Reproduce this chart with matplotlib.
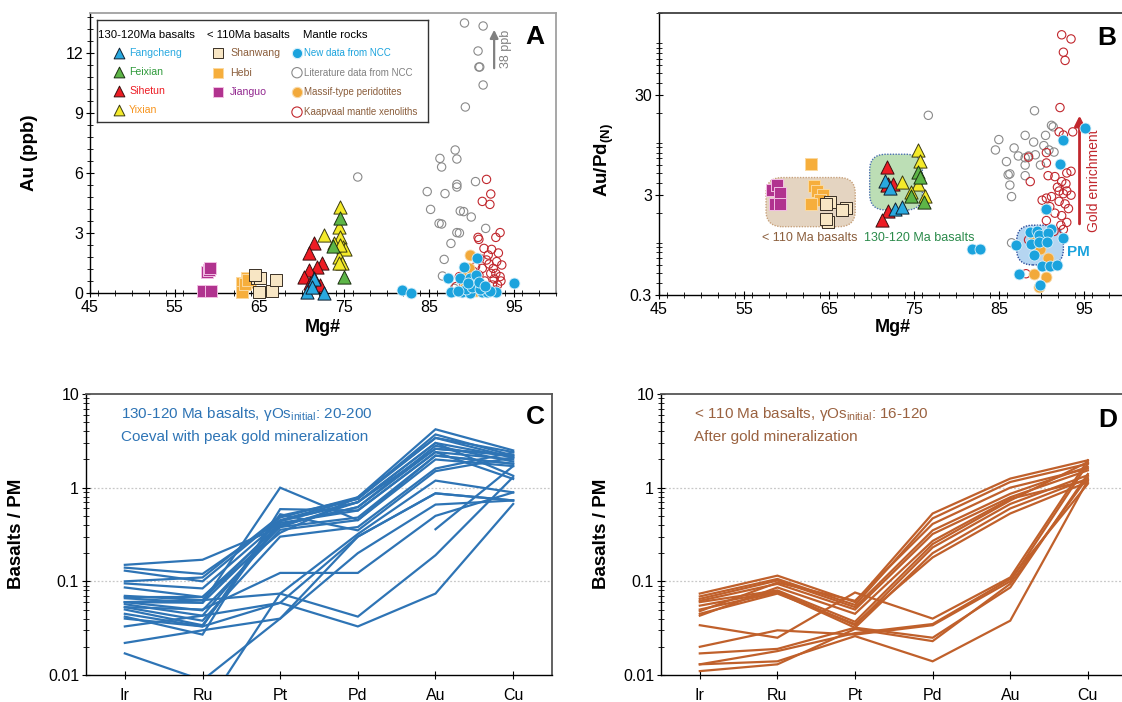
import numpy as np
import matplotlib
matplotlib.use("Agg")
import matplotlib.pyplot as plt
from matplotlib.ticker import MultipleLocator, FixedLocator, FuncFormatter, LogLocator, NullFormatter
from matplotlib.patches import FancyBboxPatch

plt.rcParams['font.family'] = ['Liberation Sans', 'DejaVu Sans']
plt.rcParams['mathtext.fontset'] = 'custom'
plt.rcParams['mathtext.rm'] = 'Liberation Sans'
plt.rcParams['mathtext.it'] = 'Liberation Sans'
plt.rcParams['mathtext.bf'] = 'Liberation Sans:bold'

# ---------------- Panel A data (Mg#, Au ppb) ----------------
jianguo_A_mg = [58.8, 59.0, 59.2, 58.3, 59.3]
jianguo_A_au = [1.07, 1.15, 1.23, 0.08, 0.08]
hebi_A_mg = [62.9, 62.9, 63.5, 63.9, 63.3, 63.7]
hebi_A_au = [0.52, 0.07, 0.73, 0.57, 0.45, 0.65]
shanwang_A_mg = [64.7, 65.1, 64.9, 66.5, 66.9, 64.5]
shanwang_A_au = [0.73, 0.73, 0.05, 0.1, 0.65, 0.9]
sihetun_A_mg = [71.4, 70.8, 72.4, 71.8, 70.8, 70.2, 71.0, 72.2, 71.4]
sihetun_A_au = [2.48, 1.98, 1.48, 1.32, 1.15, 0.82, 0.48, 0.4, 0.73]
fangcheng_A_mg = [70.6, 71.4, 72.6, 71.2]
fangcheng_A_au = [0.05, 0.7, 0.0, 0.3]
yixian_A_mg = [74.55, 72.6, 74.35, 74.55, 73.8, 74.9, 75.1, 74.35, 74.75, 74.35, 74.5]
yixian_A_au = [4.32, 2.9, 3.3, 2.8, 2.5, 2.3, 2.2, 1.8, 1.5, 1.5, 2.4]
feixian_A_mg = [74.55, 73.7, 75.0]
feixian_A_au = [3.75, 2.35, 0.78]
lit_A_mg = [76.6, 89.2, 91.4, 90.8, 90.9, 91.0, 91.4, 89.3, 88.1, 86.3, 88.3, 86.5, 88.3, 88.3,
            90.5, 84.8, 86.9, 85.2, 88.7, 89.1, 90.0, 86.2, 86.5, 88.3, 88.6, 91.7, 87.6, 86.8,
            86.6, 88.0]
lit_A_au = [5.8, 13.5, 13.35, 12.1, 11.3, 11.3, 10.4, 9.3, 7.15, 6.73, 6.7, 6.3, 5.43, 5.3,
            5.57, 5.07, 4.97, 4.18, 4.1, 4.07, 3.8, 3.48, 3.45, 3.02, 3.0, 3.23, 2.48, 1.68,
            0.85, 0.23]
kaap_A_mg = [91.8, 92.3, 91.3, 92.2, 90.8, 90.9, 93.4, 92.9, 91.5, 92.4, 91.0, 91.8, 93.0, 93.6,
             92.6, 92.9, 92.3, 93.4, 88.6, 89.8, 91.0, 92.5, 93.1, 88.2, 92.9, 91.8, 90.6, 91.3,
             90.5, 89.3, 92.0, 93.2, 90.2, 91.6, 92.7, 89.6, 90.9, 92.1, 93.5, 91.2]
kaap_A_au = [5.68, 4.95, 4.58, 4.43, 2.78, 2.68, 3.02, 2.78, 2.23, 2.18, 1.73, 1.65, 1.57, 1.4,
             1.23, 0.98, 0.98, 0.82, 0.82, 0.65, 0.48, 0.4, 0.4, 0.32, 0.15, 0.23, 0.15, 1.23,
             1.32, 1.0, 1.9, 2.0, 1.1, 0.6, 0.7, 0.45, 0.9, 1.45, 0.6, 0.3]
ncc_A_mg = [81.8, 82.9, 87.2, 87.6, 88.7, 89.2, 90.7, 89.9, 90.6, 88.9, 89.9, 90.4, 91.3, 91.9,
            92.9, 95.1, 89.4, 90.1, 91.0, 89.6, 90.9, 92.2, 88.4, 91.6]
ncc_A_au = [0.15, 0.02, 0.73, 0.03, 0.73, 1.32, 1.73, 0.73, 0.9, 0.03, 0.02, 0.4, 0.05, 0.03,
            0.03, 0.48, 0.2, 0.3, 0.2, 0.5, 0.55, 0.1, 0.1, 0.35]
massif_A_mg = [89.8, 89.7, 90.2, 89.3, 90.6, 89.0]
massif_A_au = [1.9, 1.23, 0.6, 0.3, 0.1, 0.8]

# ---------------- Panel B data (Mg#, Au/Pd normalised) ----------------
jianguo_B_mg = [58.3, 58.9, 59.2, 58.6, 59.3]
jianguo_B_r = [3.37, 3.78, 3.14, 2.47, 2.47]
hebi_B_mg = [62.9, 63.2, 63.6, 64.3, 64.0, 62.9]
hebi_B_r = [6.1, 3.71, 3.3, 3.0, 2.67, 2.47]
shanwang_B_mg = [65.1, 64.7, 67.0, 66.5, 64.9, 64.7]
shanwang_B_r = [2.57, 2.42, 2.24, 2.13, 1.63, 1.75]
sihetun_B_mg = [71.8, 72.0, 72.6, 71.8, 71.9, 71.3]
sihetun_B_r = [5.8, 3.9, 3.85, 3.77, 2.1, 1.69]
fangcheng_B_mg = [71.6, 72.2, 72.8, 73.6]
fangcheng_B_r = [4.2, 3.5, 2.2, 2.3]
yixian_B_mg = [75.5, 75.7, 73.6, 75.5, 74.7, 76.3]
yixian_B_r = [8.4, 6.6, 4.07, 3.9, 3.26, 2.96]
feixian_B_mg = [75.5, 74.7, 76.2, 75.7]
feixian_B_r = [5.1, 2.96, 2.57, 4.6]
lit_B_mg = [76.7, 89.2, 91.2, 91.4, 85.0, 84.6, 86.8, 88.1, 89.1, 90.5, 90.3, 90.9, 91.5, 85.9,
            87.3, 88.1, 88.5, 89.3, 88.1, 89.9, 86.1, 86.3, 88.1, 86.3, 86.5, 86.5]
lit_B_r = [18.9, 21.0, 15.0, 14.5, 10.8, 8.5, 8.9, 11.9, 10.2, 11.9, 9.4, 8.5, 8.1, 6.5,
           7.4, 7.1, 7.4, 7.6, 6.0, 6.0, 4.8, 4.9, 4.7, 3.78, 2.9, 1.0]
kaap_B_mg = [92.4, 93.5, 92.6, 92.8, 92.2, 92.1, 93.7, 92.6, 90.6, 88.5, 90.6, 93.0, 93.5, 90.8,
             91.6, 88.7, 92.4, 92.1, 92.6, 93.0, 93.5, 90.1, 90.6, 91.2, 92.1, 92.8, 93.2, 91.6,
             92.4, 90.6, 93.0, 92.6, 91.5, 88.5, 88.2, 91.9, 92.9, 91.0, 92.3]
kaap_B_r = [121, 110, 81, 67, 22.6, 12.9, 12.9, 12.0, 8.0, 7.2, 6.3, 5.0, 5.2, 4.7,
            4.6, 4.1, 4.1, 3.3, 3.1, 3.3, 3.0, 2.67, 2.8, 2.9, 2.6, 2.45, 2.2, 1.98,
            1.87, 1.67, 1.6, 1.36, 1.3, 1.07, 0.49, 3.6, 3.9, 2.3, 1.5]
ncc_B_mg = [95.1, 92.6, 92.2, 90.5, 81.9, 82.8, 87.0, 88.7, 89.5, 91.2, 89.7, 90.8, 88.8, 89.7,
            90.7, 92.5, 89.2, 90.1, 91.0, 91.9, 87.4, 89.8]
ncc_B_r = [14.2, 10.8, 6.1, 2.2, 0.86, 0.86, 0.96, 1.27, 1.3, 1.37, 1.2, 1.25, 0.97, 1.03,
           1.03, 1.12, 0.75, 0.58, 0.58, 0.6, 0.49, 0.38]
massif_B_mg = [90.6, 89.1, 89.9, 90.8, 89.1, 90.5, 89.7]
massif_B_r = [2.2, 1.12, 0.86, 0.7, 0.49, 0.45, 0.36]

# ---------------- Panels C, D data (normalised to PM) ----------------
elements = ['Ir', 'Ru', 'Pt', 'Pd', 'Au', 'Cu']
nan = np.nan
basalts_130_120 = [
    [0.15, 0.17, 0.38, 0.70, 2.6, 2.2],
    [0.14, 0.12, 0.45, 0.76, 3.4, 2.4],
    [0.13, 0.10, 0.48, 0.79, 4.2, 2.5],
    [0.10, 0.11, 0.50, 0.76, 3.7, 2.2],
    [0.095, 0.084, 0.44, 0.70, 3.0, 2.1],
    [0.086, 0.068, 0.40, 0.62, 2.8, 1.9],
    [0.07, 0.063, 0.42, 0.57, 2.4, 2.0],
    [0.066, 0.059, 0.38, 0.48, 2.2, 1.8],
    [0.06, 0.049, 0.355, 0.45, 2.0, 1.7],
    [0.057, 0.043, 0.40, 0.62, 2.6, 2.24],
    [0.053, 0.038, 0.30, 0.38, 1.6, 2.38],
    [0.05, 0.034, 0.44, 0.70, 3.0, 1.34],
    [0.06, 0.059, 1.0, 0.45, 2.2, 1.8],
    [0.042, 0.027, 0.59, 0.57, 2.4, 1.24],
    [0.045, 0.033, 0.52, 0.35, 1.5, 2.1],
    [0.06, 0.063, 0.074, 0.042, 0.19, 1.3],
    [0.04, 0.033, 0.059, 0.033, 0.074, 0.67],
    [0.053, 0.05, 0.123, 0.123, 0.5, 0.89],
    [0.033, 0.043, 0.059, 0.3, 0.87, 0.73],
    [0.022, 0.03, 0.04, 0.2, 0.66, 0.73],
    [0.017, 0.0088, 0.04, 0.3, 0.87, 0.73],
    [nan, 0.004, 0.074, 0.32, 1.19, 0.89],
    [nan, nan, nan, nan, 0.36, 1.7],
    [0.068, 0.068, 0.33, 0.79, 3.4, 2.1],
]
basalts_110 = [
    [0.074, 0.115, 0.060, 0.53, 1.25, 1.96],
    [0.069, 0.106, 0.056, 0.47, 1.15, 1.80],
    [0.065, 0.102, 0.053, 0.35, 0.86, 1.67],
    [0.062, 0.094, 0.050, 0.32, 0.79, 1.53],
    [0.060, 0.080, 0.037, 0.25, 0.73, 1.88],
    [0.055, 0.078, 0.034, 0.23, 0.67, 1.36],
    [0.050, 0.076, 0.032, 0.20, 0.60, 1.25],
    [0.045, 0.074, 0.035, 0.18, 0.53, 1.15],
    [0.043, 0.086, 0.045, 0.27, 0.76, 1.20],
    [0.048, 0.097, 0.062, 0.41, 1.00, 1.60],
    [0.034, 0.025, 0.076, 0.040, 0.11, 1.96],
    [0.020, 0.030, 0.027, 0.034, 0.10, 1.80],
    [0.017, 0.019, 0.032, 0.025, 0.086, 1.40],
    [0.013, 0.014, 0.026, 0.014, 0.038, 1.20],
    [0.011, 0.013, 0.031, 0.023, 0.094, 1.30],
    [0.013, 0.018, 0.028, 0.035, 0.106, 1.10],
]

# ---------------- colours ----------------
c_fang = '#29a9e0'
c_feix = '#5db547'
c_sihe = '#ed1c24'
c_yixi = '#f4ea2a'
c_shan = '#f8e6c4'
c_hebi = '#f6ae3c'
c_jian = '#b1338f'
c_ncc = '#1ba3dd'
c_lit = '#8a8a8a'
c_mas = '#f2a93b'
c_kaap = '#c1272d'
c_blueline = '#2e74b5'
c_brownline = '#c0602b'

W, H = 1122, 702
fig = plt.figure(figsize=(W / 100, H / 100), dpi=100)


def px_axes(l, t, r, b):
    return fig.add_axes([l / W, 1 - b / H, (r - l) / W, (b - t) / H])


tri_s, sq_s, cir_s, ocir_s = 90, 80, 62, 36


def draw_points(ax, d):
    ax.scatter(d['lit'][0], d['lit'][1], s=ocir_s, facecolors='none', edgecolors=c_lit, linewidths=0.8, zorder=3)
    ax.scatter(d['kaap'][0], d['kaap'][1], s=ocir_s, facecolors='none', edgecolors=c_kaap, linewidths=0.8, zorder=3)
    ax.scatter(d['mas'][0], d['mas'][1], s=cir_s, facecolors=c_mas, edgecolors='#f7d9a8', linewidths=0.6, zorder=4)
    ax.scatter(d['ncc'][0], d['ncc'][1], s=cir_s, facecolors=c_ncc, edgecolors='#d8f0fb', linewidths=0.6, zorder=5)
    ax.scatter(d['jian'][0], d['jian'][1], s=sq_s, marker='s', facecolors=c_jian, edgecolors='#f2bfe3', linewidths=0.7, zorder=5)
    ax.scatter(d['hebi'][0], d['hebi'][1], s=sq_s, marker='s', facecolors=c_hebi, edgecolors='#fbd9a0', linewidths=0.7, zorder=5)
    ax.scatter(d['shan'][0], d['shan'][1], s=sq_s, marker='s', facecolors=c_shan, edgecolors='#3a3026', linewidths=0.7, zorder=5)
    ax.scatter(d['sihe'][0], d['sihe'][1], s=tri_s, marker='^', facecolors=c_sihe, edgecolors='#3a1010', linewidths=0.7, zorder=6)
    ax.scatter(d['fang'][0], d['fang'][1], s=tri_s, marker='^', facecolors=c_fang, edgecolors='#102030', linewidths=0.7, zorder=6)
    ax.scatter(d['yixi'][0], d['yixi'][1], s=tri_s, marker='^', facecolors=c_yixi, edgecolors='#3a3a10', linewidths=0.7, zorder=6)
    ax.scatter(d['feix'][0], d['feix'][1], s=tri_s, marker='^', facecolors=c_feix, edgecolors='#1a3010', linewidths=0.7, zorder=6)


def style_common(ax, topcol, rightcol=None):
    ax.spines['left'].set_color('black')
    ax.spines['bottom'].set_color('black')
    ax.spines['left'].set_linewidth(1.0)
    ax.spines['bottom'].set_linewidth(1.0)
    ax.spines['top'].set_color(topcol)
    ax.spines['top'].set_linewidth(1.3)
    if rightcol is None:
        ax.spines['right'].set_visible(False)
    else:
        ax.spines['right'].set_color(rightcol)
        ax.spines['right'].set_linewidth(1.3)
    ax.tick_params(axis='both', which='major', direction='inout', length=6, width=0.8, labelsize=11.5,
                   top=False, right=False, pad=2)
    ax.tick_params(axis='both', which='minor', direction='inout', length=4, width=0.6, top=False, right=False)


# ================= Panel A =================
axA = px_axes(90, 13, 556, 293)
dA = dict(lit=(lit_A_mg, lit_A_au), kaap=(kaap_A_mg, kaap_A_au), mas=(massif_A_mg, massif_A_au),
          ncc=(ncc_A_mg, ncc_A_au), jian=(jianguo_A_mg, jianguo_A_au), hebi=(hebi_A_mg, hebi_A_au),
          shan=(shanwang_A_mg, shanwang_A_au), sihe=(sihetun_A_mg, sihetun_A_au),
          fang=(fangcheng_A_mg, fangcheng_A_au), yixi=(yixian_A_mg, yixian_A_au), feix=(feixian_A_mg, feixian_A_au))
draw_points(axA, dA)
for c in axA.collections:
    c.set_clip_on(False)
axA.set_xlim(45, 100)
axA.set_ylim(0, 14)
axA.xaxis.set_major_locator(FixedLocator([45, 55, 65, 75, 85, 95]))
axA.xaxis.set_minor_locator(MultipleLocator(2))
axA.yaxis.set_major_locator(MultipleLocator(3))
axA.yaxis.set_minor_locator(MultipleLocator(0.6))
style_common(axA, '#a0a0a0', '#a0a0a0')
axA.annotate('', xy=(92.7, 13.3), xytext=(92.7, 11.1),
             arrowprops=dict(arrowstyle='-|>', color='#808080', lw=1.6, mutation_scale=12))
axA.text(94.1, 12.2, '38 ppb', rotation=90, ha='center', va='center', fontsize=9, color='#808080')
axA.text(0.955, 0.915, 'A', transform=axA.transAxes, ha='center', va='center', fontsize=19, fontweight='bold')
fig.text(30 / W, 1 - 153 / H, 'Au (ppb)', rotation=90, ha='center', va='center', fontsize=13.5, fontweight='bold')
fig.text(323 / W, 1 - 327 / H, 'Mg#', ha='center', va='center', fontsize=13, fontweight='bold')

# legend inset (pixel coordinates)
lg = px_axes(97, 20, 428, 122)
lg.set_xlim(97, 428)
lg.set_ylim(122, 20)
lg.set_xticks([])
lg.set_yticks([])
for s in lg.spines.values():
    s.set_color('#333333')
    s.set_linewidth(1.0)
lg.set_facecolor('white')
lg.set_zorder(10)
lg.text(98, 35, '130-120Ma basalts', fontsize=8.2, va='center', ha='left')
lg.text(207, 35, '< 110Ma basalts', fontsize=8.2, va='center', ha='left')
lg.text(303, 35, 'Mantle rocks', fontsize=8.2, va='center', ha='left')
leg_tri = [('Fangcheng', c_fang, '#29a9e0', '#102030'), ('Feixian', c_feix, '#2f9a3a', '#1a3010'),
           ('Sihetun', c_sihe, '#ed1c24', '#3a1010'), ('Yixian', c_yixi, '#f7941d', '#3a3a10')]
for i, (name, fc, tc, ec) in enumerate(leg_tri):
    y = 53 + i * 19
    lg.scatter([119], [y], s=60, marker='^', facecolors=fc, edgecolors=ec, linewidths=0.7)
    lg.text(129, y, name, fontsize=7.6, color=tc, va='center', ha='left')
leg_sq = [('Shanwang', c_shan, '#3a3026', '#8b5e3c'), ('Hebi', c_hebi, '#fbd9a0', '#8b5e3c'),
          ('Jianguo', c_jian, '#f2bfe3', '#92278f')]
for i, (name, fc, ec, tc) in enumerate(leg_sq):
    y = 53 + i * 19.5
    lg.scatter([218], [y], s=45, marker='s', facecolors=fc, edgecolors=ec, linewidths=0.7)
    lg.text(230, y, name, fontsize=7.6, color=tc, va='center', ha='left')
leg_c = [('New data from NCC', c_ncc, '#d8f0fb', c_ncc),
         ('Literature data from NCC', 'none', c_lit, '#808080'),
         ('Massif-type peridotites', c_mas, '#f7d9a8', '#8b5e3c'),
         ('Kaapvaal mantle xenoliths', 'none', c_kaap, '#8b5e3c')]
for i, (name, fc, ec, tc) in enumerate(leg_c):
    y = 53 + i * 19.7
    lg.scatter([297], [y], s=55, marker='o', facecolors=fc, edgecolors=ec, linewidths=0.8)
    lg.text(304, y, name, fontsize=7.0, color=tc, va='center', ha='left')

# ================= Panel B =================
axB = px_axes(659, 13, 1122, 295)
axB.set_yscale('log')
xl = (45, 99.5)
yl = (0.3, 200)
axB.set_xlim(*xl)
axB.set_ylim(*yl)


def to_axfrac(x, y):
    return ((x - xl[0]) / (xl[1] - xl[0]),
            (np.log10(y) - np.log10(yl[0])) / (np.log10(yl[1]) - np.log10(yl[0])))


def rbox(ax, x0, y0, x1, y1, fc, ec):
    a0 = to_axfrac(x0, y0)
    a1 = to_axfrac(x1, y1)
    p = FancyBboxPatch((a0[0], a0[1]), a1[0] - a0[0], a1[1] - a0[1],
                       boxstyle='round,pad=0,rounding_size=0.035', mutation_aspect=1.6,
                       transform=ax.transAxes, facecolor=fc, edgecolor=ec, linestyle=(0, (1, 1)),
                       linewidth=1.0, zorder=1)
    ax.add_patch(p)


rbox(axB, 57.6, 1.45, 68.1, 4.5, '#e4d4c1', '#c8a27c')
rbox(axB, 69.8, 2.13, 76.0, 7.7, '#bcdeb5', '#4a6fb0')
rbox(axB, 87.1, 0.6, 92.6, 1.5, '#b5d5f1', '#2a4a9a')
dB = dict(lit=(lit_B_mg, lit_B_r), kaap=(kaap_B_mg, kaap_B_r), mas=(massif_B_mg, massif_B_r),
          ncc=(ncc_B_mg, ncc_B_r), jian=(jianguo_B_mg, jianguo_B_r), hebi=(hebi_B_mg, hebi_B_r),
          shan=(shanwang_B_mg, shanwang_B_r), sihe=(sihetun_B_mg, sihetun_B_r),
          fang=(fangcheng_B_mg, fangcheng_B_r), yixi=(yixian_B_mg, yixian_B_r), feix=(feixian_B_mg, feixian_B_r))
draw_points(axB, dB)
axB.xaxis.set_major_locator(FixedLocator([45, 55, 65, 75, 85, 95]))
axB.xaxis.set_minor_locator(MultipleLocator(2))
axB.yaxis.set_major_locator(FixedLocator([0.3, 3, 30]))
axB.yaxis.set_major_formatter(FuncFormatter(lambda v, p: '%g' % v))
axB.yaxis.set_minor_locator(LogLocator(base=10, subs=np.arange(1, 10)))
axB.yaxis.set_minor_formatter(NullFormatter())
style_common(axB, '#404040')
axB.annotate('', xy=(94.5, 20.0), xytext=(94.5, 1.45),
             arrowprops=dict(arrowstyle='-|>', color='#c1272d', lw=2.0, mutation_scale=15))
axB.text(96.2, 4.2, 'Gold enrichment', rotation=90, ha='center', va='center', fontsize=10, color='#c1272d')
axB.text(94.4, 0.81, 'PM', ha='center', va='center', fontsize=11, color=c_ncc, fontweight='bold')
axB.text(62.8, 1.11, '< 110 Ma basalts', ha='center', va='center', fontsize=9, color='#8b5e3c')
axB.text(75.6, 1.11, '130-120 Ma basalts', ha='center', va='center', fontsize=9, color='#2a8a4a')
fig.text(1107 / W, 1 - 38 / H, 'B', ha='center', va='center', fontsize=19, fontweight='bold')
fig.text(604 / W, 1 - 160 / H, r'Au/Pd$_{\mathbf{(N)}}$', rotation=90, ha='center', va='center', fontsize=13.5, fontweight='bold')
fig.text(893 / W, 1 - 327 / H, 'Mg#', ha='center', va='center', fontsize=13, fontweight='bold')

# ================= Panels C & D =================
xs = np.arange(len(elements))


def spider(ax, data, col, xlim_r):
    ax.set_yscale('log')
    for row in data:
        ax.plot(xs, row, color=col, lw=1.6, solid_joinstyle='miter', zorder=3)
    ax.set_xlim(-0.5, xlim_r)
    ax.set_ylim(0.01, 10)
    ax.set_xticks(xs)
    ax.set_xticklabels(elements)
    ax.yaxis.set_major_locator(FixedLocator([0.01, 0.1, 1, 10]))
    ax.yaxis.set_major_formatter(FuncFormatter(lambda v, p: '%g' % v))
    ax.yaxis.set_minor_locator(LogLocator(base=10, subs=np.arange(2, 10)))
    ax.yaxis.set_minor_formatter(NullFormatter())
    for g in (0.1, 1):
        ax.axhline(g, color='#c8c8c8', lw=0.9, ls=(0, (1.5, 1.5)), zorder=1)


axC = px_axes(86, 394, 552, 675)
spider(axC, basalts_130_120, c_blueline, 5.5)
style_common(axC, '#555555', '#555555')
axC.tick_params(axis='x', which='major', length=6, pad=6)
fig.text(121 / W, 1 - 414 / H, r'130-120 Ma basalts, γOs$_{\mathrm{initial}}$: 20-200', ha='left', va='center',
         fontsize=11, color=c_blueline)
fig.text(121 / W, 1 - 437 / H, 'Coeval with peak gold mineralization', ha='left', va='center',
         fontsize=11, color=c_blueline)
fig.text(535 / W, 1 - 417 / H, 'C', ha='center', va='center', fontsize=19, fontweight='bold')
fig.text(17 / W, 1 - 534 / H, 'Basalts / PM', rotation=90, ha='center', va='center', fontsize=13.5, fontweight='bold')

axD = px_axes(661, 394, 1122, 675)
spider(axD, basalts_110, c_brownline, 5.44)
style_common(axD, '#555555')
axD.tick_params(axis='x', which='major', length=6, pad=6)
fig.text(694 / W, 1 - 414 / H, r'< 110 Ma basalts, γOs$_{\mathrm{initial}}$: 16-120', ha='left', va='center',
         fontsize=11, color='#9a6240')
fig.text(694 / W, 1 - 437 / H, 'After gold mineralization', ha='left', va='center',
         fontsize=11, color='#9a6240')
fig.text(1108 / W, 1 - 420 / H, 'D', ha='center', va='center', fontsize=19, fontweight='bold')
fig.text(602 / W, 1 - 534 / H, 'Basalts / PM', rotation=90, ha='center', va='center', fontsize=13.5, fontweight='bold')

fig.savefig('out.png', dpi=100)
